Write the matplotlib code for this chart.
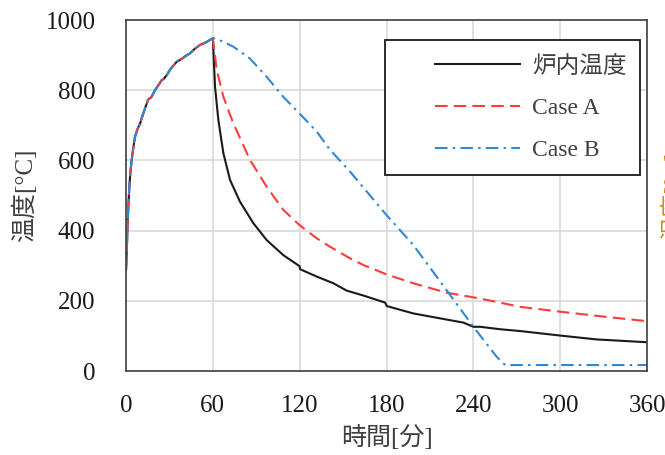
import matplotlib
matplotlib.use("Agg")
import matplotlib.pyplot as plt
from matplotlib.patches import Rectangle

plt.rcParams['font.family'] = ['Liberation Serif', 'Noto Sans CJK JP']

# heating phase (shared by all three curves)
heat_t = [0, 0.5, 0.9, 1.5, 2.3, 3.0, 3.9, 5.0, 6.2, 8.0, 9.7, 12.0, 14.3, 15.4, 17.5,
          20.0, 22.5, 24.7, 26.0, 28.1, 31.0, 35.0, 38.0, 41.0, 44.2, 47.5, 51.1, 55.0, 60.0]
heat_T = [288, 340, 392, 460, 525, 565, 601, 635, 667, 690, 705, 735, 762, 774, 780,
          800, 815, 829, 832, 843, 862, 881, 888, 897, 905, 918, 929, 936, 948]

# furnace temperature after 60 min
furn_t = [61.5, 63.8, 67.3, 71.9, 78.8, 88.0, 97.2, 108.7, 119.8, 120.3, 131.8, 143.3,
          152.5, 164.0, 179.0, 180.2, 198.5, 217.0, 233.0, 240.0, 244.6, 258.5, 272.0,
          300.0, 325.0, 360.0]
furn_T = [810, 715, 620, 544, 482, 421, 373, 330, 299, 290, 269, 250,
          229, 215, 195, 185, 164, 150, 138, 126, 126, 119, 114,
          101, 90, 82]

# Case A after 60 min
a_t = [62.7, 67.3, 74.2, 85.7, 97.2, 108.7, 119.8, 131.8, 141.0, 154.8, 164.0, 180.2,
       198.5, 221.6, 240.0, 256.0, 272.0, 300.0, 330.0, 360.0]
a_T = [857, 781, 705, 601, 525, 459, 416, 378, 354, 321, 302, 275,
       250, 223, 210, 197, 183, 169, 155, 142]

# Case B after 60 min
b_t = [62.0, 74.2, 85.7, 97.2, 108.7, 119.8, 131.8, 141.0, 154.8, 179.0, 198.5,
       220.5, 240.0, 256.0, 262.0, 300.0, 360.0]
b_T = [948, 924, 890, 838, 781, 734, 682, 630, 568, 449, 359,
       236, 126, 41, 17, 17, 17]

fig = plt.figure(figsize=(6.65, 4.55), dpi=100)
ax = fig.add_axes([0.1895, 0.1846, 0.7835, 0.7714])

ax.plot(heat_t + furn_t, heat_T + furn_T, color='#1a1a1a', lw=1.5, label='炉内温度')
ax.plot(heat_t + a_t, heat_T + a_T, color='#ff3b3b', lw=1.5, dashes=(6, 3), label='Case A')
ax.plot(heat_t + b_t, heat_T + b_T, color='#2f88d6', lw=1.5,
        dashes=(6, 2.5, 1.2, 2.5), label='Case B')

ax.set_xlim(0, 360)
ax.set_ylim(0, 1000)
ax.set_xticks(range(0, 361, 60))
ax.set_yticks(range(0, 1001, 200))
ax.grid(True, color='#d9d9d9', lw=1.2)
ax.set_axisbelow(True)
ax.tick_params(length=0, labelsize=18, colors='#1a1a1a')
ax.tick_params(axis='x', pad=17)
ax.tick_params(axis='y', pad=22)
for s in ax.spines.values():
    s.set_color('#404040')
    s.set_linewidth(1.2)

ax.set_xlabel('時間[分]', fontsize=18, color='#404040', labelpad=6)
ax.set_ylabel('温度[°C]', fontsize=18, color='#404040', labelpad=6)

# legend box
ax.add_patch(Rectangle((0.497, 0.558), 0.49, 0.385, transform=ax.transAxes,
                       facecolor='white', edgecolor='#1a1a1a', lw=1.3, zorder=5))
leg = ax.legend(loc='upper left', bbox_to_anchor=(0.557, 0.952), frameon=False,
                fontsize=17, handlelength=3.6, handletextpad=0.5, labelspacing=0.85,
                borderpad=0.3)
leg.set_zorder(6)
for t in leg.get_texts():
    t.set_color('#404040')

# clipped secondary axis title at the right edge
fig.text(0.9955, 0.57, '温度[°C]', rotation=90, fontsize=17, color='#d08a10',
         ha='left', va='center')

fig.savefig('out.png', dpi=100)
